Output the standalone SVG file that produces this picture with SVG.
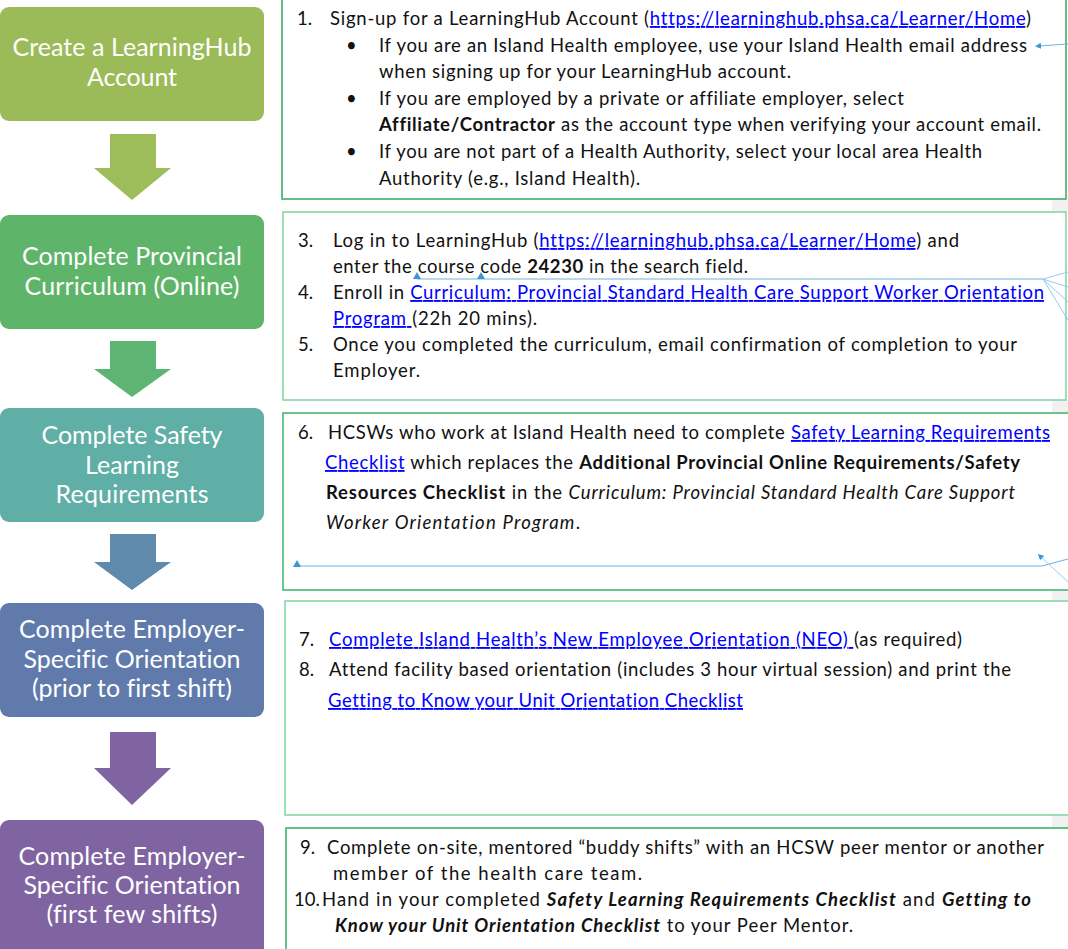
<svg xmlns="http://www.w3.org/2000/svg" width="1068" height="949" viewBox="0 0 1068 949">
<style>
.step{font-family:Lato,"Liberation Sans",sans-serif;font-size:25px;fill:#fff;text-anchor:middle;font-variant-ligatures:none}
.t{font-family:Lato,"Liberation Sans",sans-serif;font-size:18.5px;fill:#111;font-variant-ligatures:none}
.a{fill:#0000ff;text-decoration:underline}
.b{font-weight:bold}
.i{font-style:italic}
.bi{font-weight:bold;font-style:italic}
.box{fill:#fff;stroke-width:1.5}
.con{fill:none;stroke:#6db4e2;stroke-width:1.2}
.conf{fill:none;stroke:#8cc8ec;stroke-width:0.9}
</style>
<defs>
<marker id="tri" viewBox="0 0 10 10" refX="5" refY="5" markerWidth="6" markerHeight="6" orient="auto-start-reverse" markerUnits="userSpaceOnUse">
<path d="M0,0 L10,5 L0,10 Z" fill="#3a97d4"/>
</marker>
</defs>
<rect x="0" y="0" width="1068" height="949" fill="#fff"/>
<g id="gutter" fill="#f1f1f1">
<rect x="1052" y="199" width="16" height="12"/>
<rect x="1052" y="400" width="16" height="13"/>
<rect x="1052" y="590" width="16" height="11"/>
<rect x="1052" y="815" width="16" height="13"/>
</g>

<g id="step1">
<rect x="0" y="7" width="264" height="114" rx="9" fill="#9bbb59"/>
<text class="step" x="132" y="56" textLength="239">Create a LearningHub</text>
<text class="step" x="132" y="86" textLength="90">Account</text>
</g>
<g id="step2">
<rect x="0" y="215" width="264" height="114" rx="9" fill="#5eb56a"/>
<text class="step" x="132" y="265" textLength="220">Complete Provincial</text>
<text class="step" x="132" y="295" textLength="215">Curriculum (Online)</text>
</g>
<g id="step3">
<rect x="0" y="408" width="264" height="114" rx="9" fill="#5fafa6"/>
<text class="step" x="132" y="444" textLength="181">Complete Safety</text>
<text class="step" x="132" y="474" textLength="94">Learning</text>
<text class="step" x="132" y="503" textLength="153">Requirements</text>
</g>
<g id="step4">
<rect x="0" y="603" width="264" height="114" rx="9" fill="#5f7aab"/>
<text class="step" x="132" y="638" textLength="226">Complete Employer-</text>
<text class="step" x="132" y="668" textLength="217">Specific Orientation</text>
<text class="step" x="132" y="697" textLength="200">(prior to first shift)</text>
</g>
<g id="step5">
<rect x="0" y="820" width="264" height="140" rx="9" fill="#8064a2"/>
<text class="step" x="132" y="865" textLength="227">Complete Employer-</text>
<text class="step" x="132" y="894" textLength="217">Specific Orientation</text>
<text class="step" x="132" y="923" textLength="171">(first few shifts)</text>
</g>

<g id="flow-arrows">
<path d="M110,134 H156 V168 H171 L132,200 L94,168 H110 Z" fill="#9dbd5b"/>
<path d="M110,341 H156 V369 H171 L132,397 L94,369 H110 Z" fill="#5eb473"/>
<path d="M110,534 H156 V562 H171 L132,590 L94,562 H110 Z" fill="#5f8aac"/>
<path d="M110,732 H156 V768 H171 L132,805 L94,768 H110 Z" fill="#8064a2"/>
</g>

<g id="details1">
<rect class="box" x="282" y="-2" width="784" height="201" stroke="#33a862"/>
<text class="t" x="297" y="25">1.</text>
<text class="t" x="330" y="25" textLength="701">Sign-up for a LearningHub Account (<tspan class="a">https://learninghub.phsa.ca/Learner/Home</tspan>)</text>
<text class="t" x="346" y="52">•</text>
<text class="t" x="379" y="52" textLength="648">If you are an Island Health employee, use your Island Health email address</text>
<text class="t" x="379" y="78" textLength="412">when signing up for your LearningHub account.</text>
<text class="t" x="346" y="105">•</text>
<text class="t" x="379" y="105" textLength="525">If you are employed by a private or affiliate employer, select</text>
<text class="t" x="379" y="131" textLength="662"><tspan class="b">Affiliate/Contractor</tspan> as the account type when verifying your account email.</text>
<text class="t" x="346" y="158">•</text>
<text class="t" x="379" y="158" textLength="603">If you are not part of a Health Authority, select your local area Health</text>
<text class="t" x="379" y="185" textLength="261">Authority (e.g., Island Health).</text>
</g>

<g id="details2">
<rect class="box" x="283" y="212" width="783" height="188" stroke="#7dd3a3"/>
<text class="t" x="298" y="247">3.</text>
<text class="t" x="333" y="247" textLength="626">Log in to LearningHub (<tspan class="a">https://learninghub.phsa.ca/Learner/Home</tspan>) and</text>
<text class="t" x="333" y="273" textLength="415">enter the course code <tspan class="b">24230</tspan> in the search field.</text>
<text class="t" x="298" y="299">4.</text>
<text class="t" x="333" y="299" textLength="711">Enroll in <tspan class="a">Curriculum: Provincial Standard Health Care Support Worker Orientation</tspan></text>
<text class="t" x="333" y="325" textLength="204"><tspan class="a">Program </tspan>(22h 20 mins).</text>
<text class="t" x="298" y="351">5.</text>
<text class="t" x="333" y="351" textLength="684">Once you completed the curriculum, email confirmation of completion to your</text>
<text class="t" x="333" y="377" textLength="87">Employer.</text>
</g>

<g id="details3">
<rect class="box" x="283" y="413" width="790" height="177" stroke="#3ab26a"/>
<text class="t" x="298" y="439">6.</text>
<text class="t" x="328" y="439" textLength="722">HCSWs who work at Island Health need to complete <tspan class="a">Safety Learning Requirements</tspan></text>
<text class="t" x="325" y="469" textLength="695"><tspan class="a">Checklist</tspan> which replaces the <tspan class="b">Additional Provincial Online Requirements/Safety</tspan></text>
<text class="t" x="326" y="499" textLength="689"><tspan class="b">Resources Checklist</tspan> in the <tspan class="i">Curriculum: Provincial Standard Health Care Support</tspan></text>
<text class="t" x="326" y="529" textLength="254"><tspan class="i">Worker Orientation Program</tspan>.</text>
</g>

<g id="details4">
<rect class="box" x="285" y="601" width="790" height="214" stroke="#7ed4a5"/>
<text class="t" x="299" y="646">7.</text>
<text class="t" x="329" y="646" textLength="633"><tspan class="a">Complete Island Health’s New Employee Orientation (NEO) </tspan>(as required)</text>
<text class="t" x="299" y="676">8.</text>
<text class="t" x="329" y="676" textLength="682">Attend facility based orientation (includes 3 hour virtual session) and print the</text>
<text class="t" x="328" y="707" textLength="415"><tspan class="a">Getting to Know your Unit Orientation Checklist</tspan></text>
</g>

<g id="details5">
<rect class="box" x="286" y="828" width="790" height="140" stroke="#2db35e"/>
<text class="t" x="300" y="854">9.</text>
<text class="t" x="327" y="854" textLength="717">Complete on-site, mentored “buddy shifts” with an HCSW peer mentor or another</text>
<text class="t" x="333" y="880" textLength="309">member of the health care team.</text>
<text class="t" x="294" y="906">10.</text>
<text class="t" x="322" y="906" textLength="709">Hand in your completed <tspan class="bi">Safety Learning Requirements Checklist</tspan> and <tspan class="bi">Getting to</tspan></text>
<text class="t" x="335" y="932" textLength="518"><tspan class="bi">Know your Unit Orientation Checklist</tspan> to your Peer Mentor.</text>
</g>

<g id="connectors">
<path class="con" d="M1068,44 L1038,46" marker-end="url(#tri)"/>
<path class="con" d="M417,279 H1043"/>
<path d="M413,279 L417,272 L421,279 Z" fill="#3a97d4"/>
<path d="M477,279 L481,272 L485,279 Z" fill="#3a97d4"/>
<path class="conf" d="M1043,279 L1068,272 M1043,279 L1068,287 M1043,279 L1068,302 M1043,279 L1068,320"/>
<path class="con" d="M297,566 H1042 L1068,559"/>
<path d="M293,567 L297,560 L301,567 Z" fill="#3a97d4"/>
<path class="conf" d="M1068,582 L1040,556" marker-end="url(#tri)"/>
</g>
</svg>
